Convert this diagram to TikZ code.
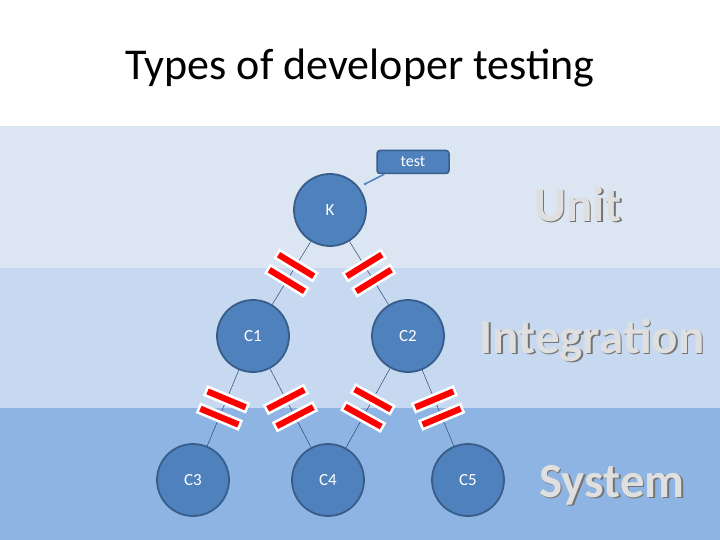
\documentclass[tikz,border=0pt]{standalone}
\usepackage{fontspec}
\setmainfont{Carlito}
\definecolor{bandA}{HTML}{DCE6F2}
\definecolor{bandB}{HTML}{C6D9F1}
\definecolor{bandC}{HTML}{8EB4E3}
\definecolor{nodefill}{HTML}{4F81BD}
\definecolor{nodeedge}{HTML}{385D8A}
\begin{document}
\begin{tikzpicture}[x=1pt,y=-1pt,
  circ/.style={circle,fill=nodefill,draw=nodeedge,line width=1.8pt,minimum size=72pt,inner sep=0pt,text=white,font=\fontsize{17}{19}\selectfont},
  edge/.style={draw=nodeedge!80!black,line width=0.5pt},
  cutbar/.style={sloped,rectangle,fill=red,draw=white,line width=2.5pt,minimum width=9pt,minimum height=44pt,inner sep=0pt},
  level/.style={font=\fontsize{49}{52}\selectfont\bfseries,text=gray!25},
  shadowt/.style={font=\fontsize{49}{52}\selectfont\bfseries,text=black!55}
]
\useasboundingbox (0,0) rectangle (720,540);
\fill[white] (0,0) rectangle (720,126);
\fill[bandA] (0,126) rectangle (720,268);
\fill[bandB] (0,268) rectangle (720,408);
\fill[bandC] (0,408) rectangle (720,540);
\node (title) at (360,68) {\fontsize{44}{48}\selectfont Types of developer testing};
\node[circ] (K) at (330,210) {K};
\node[circ] (C1) at (253,336) {C1};
\node[circ] (C2) at (408,336) {C2};
\node[circ] (C3) at (193,480) {C3};
\node[circ] (C4) at (328,480) {C4};
\node[circ] (C5) at (468,480) {C5};
\foreach \a/\b in {K/C1,K/C2,C1/C3,C1/C4,C2/C4,C2/C5}{
  \path[edge] (\a) -- (\b);
  \path (\a.center) -- node[cutbar,pos=0.44]{} node[cutbar,pos=0.56]{} (\b.center);
}
\node[rounded corners=3pt,fill=nodefill,draw=nodeedge,line width=1.5pt,text=white,minimum width=72pt,minimum height=23pt,font=\fontsize{16}{18}\selectfont] (test) at (413,162) {test};
\coordinate (tip) at (365,184);
\draw[nodefill,line width=1.5pt] (test.south west) ++(8,0) -- (tip);
\fill[nodefill] (tip) circle (1.5pt);
\foreach \t/\x/\y in {Unit/578/204,Integration/592/340,System/612/485}{
  \node[shadowt] at (\x+1.5,\y+1.5) {\t};
  \node[level] (L\t) at (\x,\y) {\t};
}
\end{tikzpicture}
\end{document}
